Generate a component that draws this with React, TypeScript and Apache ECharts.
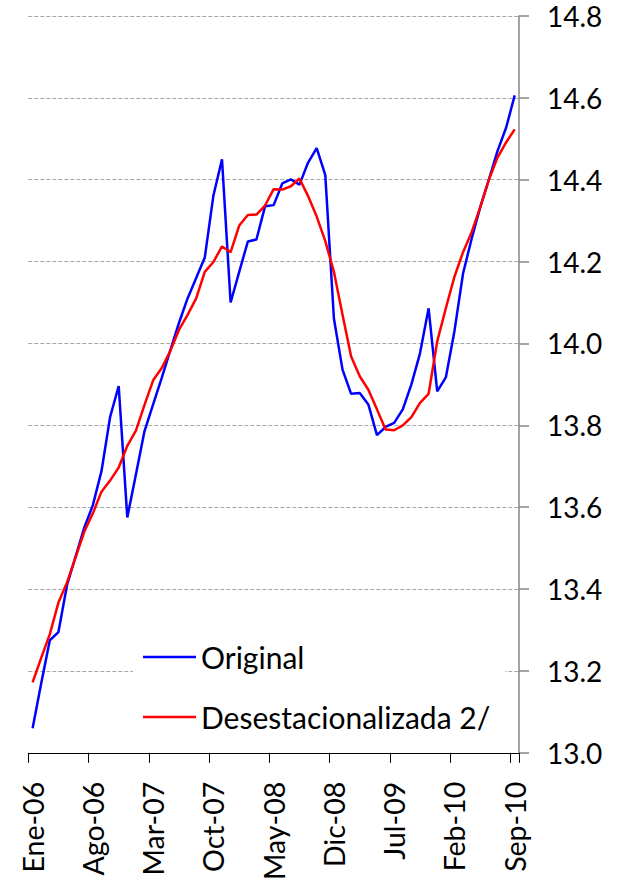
import React, { useEffect, useRef } from "react";
import * as echarts from "echarts";

const categories = [
  "Ene-06", "Feb-06", "Mar-06", "Abr-06", "May-06", "Jun-06", "Jul-06", "Ago-06", "Sep-06", "Oct-06", "Nov-06", "Dic-06",
  "Ene-07", "Feb-07", "Mar-07", "Abr-07", "May-07", "Jun-07", "Jul-07", "Ago-07", "Sep-07", "Oct-07", "Nov-07", "Dic-07",
  "Ene-08", "Feb-08", "Mar-08", "Abr-08", "May-08", "Jun-08", "Jul-08", "Ago-08", "Sep-08", "Oct-08", "Nov-08", "Dic-08",
  "Ene-09", "Feb-09", "Mar-09", "Abr-09", "May-09", "Jun-09", "Jul-09", "Ago-09", "Sep-09", "Oct-09", "Nov-09", "Dic-09",
  "Ene-10", "Feb-10", "Mar-10", "Abr-10", "May-10", "Jun-10", "Jul-10", "Ago-10", "Sep-10",
];

const original = [
  13.06, 13.17, 13.275, 13.295, 13.41, 13.48, 13.55, 13.605, 13.688, 13.82, 13.896, 13.575,
  13.68, 13.786, 13.851, 13.916, 13.984, 14.05, 14.11, 14.16, 14.21, 14.361, 14.45, 14.1,
  14.175, 14.249, 14.254, 14.335, 14.338, 14.391, 14.401, 14.388, 14.442, 14.477, 14.411, 14.061,
  13.936, 13.877, 13.879, 13.851, 13.776, 13.796, 13.806, 13.839, 13.9, 13.976, 14.086, 13.883,
  13.917, 14.03, 14.171, 14.256, 14.333, 14.4, 14.47, 14.527, 14.606,
];

const desestacionalizada = [
  13.172, 13.232, 13.29, 13.367, 13.416, 13.478, 13.54, 13.585, 13.638, 13.665, 13.697, 13.75,
  13.787, 13.85, 13.91, 13.94, 13.982, 14.033, 14.07, 14.11, 14.175, 14.199, 14.237, 14.223,
  14.288, 14.314, 14.315, 14.337, 14.377, 14.376, 14.384, 14.403, 14.36, 14.31, 14.25, 14.175,
  14.07, 13.968, 13.92, 13.887, 13.839, 13.79, 13.788, 13.8, 13.82, 13.855, 13.877, 14.005,
  14.086, 14.163, 14.223, 14.272, 14.333, 14.4, 14.454, 14.491, 14.523,
];

const seriesNames = ["Original", "Desestacionalizada 2/"];

const FONT = "Lato";

export default function App() {
  const ref = useRef<HTMLDivElement>(null);
  useEffect(() => {
    if (!ref.current) return;
    const chart = echarts.init(ref.current, undefined, { renderer: "svg" });
    chart.setOption({
      animation: false,
      backgroundColor: "#ffffff",
      grid: { left: 28.3, right: 99, top: 16, bottom: 126, containLabel: false },
      legend: {
        orient: "vertical",
        left: 133,
        top: 627,
        padding: [15, 15, 15, 10],
        backgroundColor: "#ffffff",
        icon: "rect",
        itemWidth: 53,
        itemHeight: 2.5,
        itemGap: 30,
        data: seriesNames,
        textStyle: { fontFamily: FONT, fontSize: 30, color: "#000", lineHeight: 30 },
      },
      xAxis: {
        type: "category",
        data: categories,
        boundaryGap: true,
        axisLine: { show: true, lineStyle: { color: "#000", width: 1 } },
        axisTick: { show: true, interval: 6, length: 10, lineStyle: { color: "#000", width: 1 } },
        axisLabel: {
          interval: 6,
          rotate: 90,
          margin: 29,
          fontFamily: FONT,
          fontSize: 28.5,
          color: "#000",
        },
        splitLine: { show: false },
      },
      yAxis: {
        type: "value",
        position: "right",
        min: 13,
        max: 14.8,
        interval: 0.2,
        axisLine: { show: true, lineStyle: { color: "#868686", width: 1.5 } },
        axisTick: { show: true, length: 10, lineStyle: { color: "#868686", width: 1.5 } },
        axisLabel: {
          margin: 28,
          fontFamily: FONT,
          fontSize: 28,
          color: "#000",
          formatter: (v: number) => v.toFixed(1),
        },
        splitLine: { show: true, lineStyle: { color: "#a6a6a6", type: [4, 2], width: 1 } },
      },
      series: [
        {
          name: seriesNames[0],
          type: "line",
          data: original,
          symbol: "none",
          lineStyle: { color: "#0000ff", width: 2.5 },
          itemStyle: { color: "#0000ff" },
          z: 3,
        },
        {
          name: seriesNames[1],
          type: "line",
          data: desestacionalizada,
          symbol: "none",
          lineStyle: { color: "#ff0000", width: 2.5 },
          itemStyle: { color: "#ff0000" },
          z: 4,
        },
      ],
    });
    return () => chart.dispose();
  }, []);
  return (
    <div
      ref={ref}
      style={{ position: "absolute", left: 0, top: 0, width: 618, height: 883 }}
    />
  );
}
